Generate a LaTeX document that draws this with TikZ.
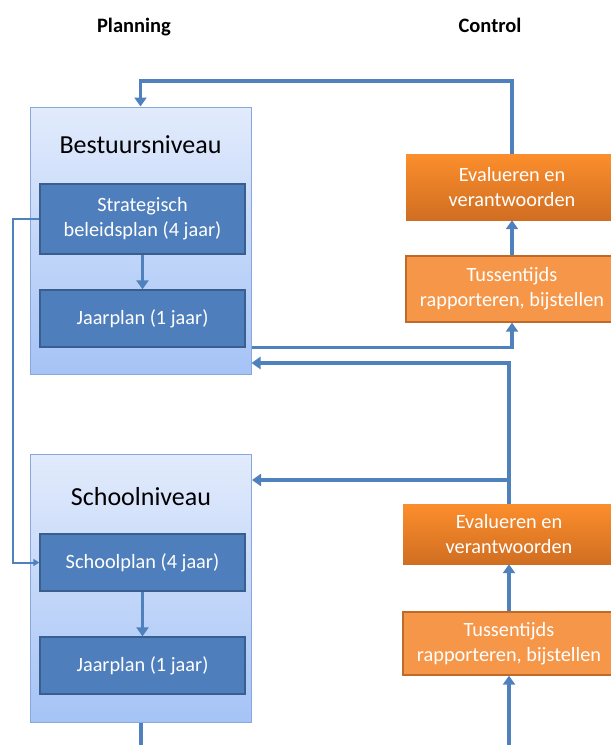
\documentclass[tikz,border=0pt]{standalone}
\usepackage{fontspec}
\setmainfont{Carlito}
\usetikzlibrary{arrows.meta}
\definecolor{lnblue}{HTML}{4F81BD}
\definecolor{inblue}{HTML}{4E7EBB}
\definecolor{inborder}{HTML}{3A5F8F}
\definecolor{outtop}{HTML}{E2EBFC}
\definecolor{outbot}{HTML}{A5C3F6}
\definecolor{outborder}{HTML}{86A8DA}
\definecolor{evtop}{HTML}{FC8E2C}
\definecolor{evbot}{HTML}{D06E22}
\definecolor{tsfill}{HTML}{F59648}
\definecolor{tsborder}{HTML}{C06A2A}
\tikzset{
  outerbox/.style={draw=outborder, line width=1pt, top color=outtop, bottom color=outbot, minimum width=221pt, inner sep=0pt},
  innerbox/.style={draw=inborder, line width=1.3pt, fill=inblue, minimum width=205pt, text=white, align=center, font=\fontsize{20.3}{25}\selectfont, inner sep=0pt},
  evbox/.style={draw=none, top color=evtop, bottom color=evbot, minimum width=212pt, text=white, align=center, font=\fontsize{20.3}{25}\selectfont, inner sep=0pt},
  tsbox/.style={draw=tsborder, line width=1.3pt, fill=tsfill, minimum width=212pt, text=white, align=center, font=\fontsize{20.3}{25}\selectfont, inner sep=0pt},
  conn/.style={draw=lnblue, line width=3.6pt, -{Triangle[width=12pt,length=9pt]}},
  connplain/.style={draw=lnblue, line width=3.6pt},
  thinconn/.style={draw=lnblue, line width=2pt, -{Triangle[width=7pt,length=6pt]}},
  header/.style={font=\fontsize{20.5}{24}\selectfont\bfseries, anchor=base},
  title/.style={font=\fontsize{26}{30}\selectfont}
}
\begin{document}
\begin{tikzpicture}[x=1pt,y=-1pt]
\useasboundingbox (0,0) rectangle (611,745);
\clip (0,0) rectangle (611,745);
% headers
\node[header] (hplan) at (134,32) {Planning};
\node[header] (hctrl) at (490,32) {Control};
% level coordinates
\coordinate (ytop) at (0,81);
\coordinate (yret) at (0,363);
\coordinate (ybr) at (0,480);
\coordinate (ybot) at (0,750);
\coordinate (xleft) at (13,0);
% Bestuursniveau
\node[outerbox, minimum height=267pt] (b) at (140.5,240.5) {};
\node[title] (bt) at (140.5,145) {Bestuursniveau};
\node[innerbox, minimum height=70pt] (s1) at (142.5,219) {Strategisch\\beleidsplan (4 jaar)};
\node[innerbox, minimum height=57pt] (j1) at (142.5,318.5) {Jaarplan (1 jaar)};
% Schoolniveau
\node[outerbox, minimum height=268pt] (sn) at (141,588) {};
\node[title] (snt) at (141,497) {Schoolniveau};
\node[innerbox, minimum height=57pt] (sp) at (142.5,562.5) {Schoolplan (4 jaar)};
\node[innerbox, minimum height=57pt] (j2) at (142.5,665.5) {Jaarplan (1 jaar)};
% Control
\node[evbox, minimum height=66pt] (e1) at (512,187) {Evalueren en\\verantwoorden};
\node[tsbox, minimum height=66pt] (t1) at (512,289) {Tussentijds\\rapporteren, bijstellen};
\node[evbox, minimum height=60pt] (e2) at (509,534) {Evalueren en\\verantwoorden};
\node[tsbox, minimum height=63pt] (t2) at (509,643.5) {Tussentijds\\rapporteren, bijstellen};
% connectors
\draw[conn] (e1.north) -- (e1.north |- ytop) -| (b.north);
\draw[conn] (t1.north) -- (e1.south);
\draw[conn] (j1.south -| b.east) -| (t1.south);
\draw[conn] (e2.north) -- (e2.north |- yret) -- (b.east |- yret);
\draw[conn] (e2.north |- ybr) -- (sn.east |- ybr);
\draw[conn] (t2.north) -- (e2.south);
\draw[conn] (t2.south |- ybot) -- (t2.south);
\draw[conn] (s1.south) -- (j1.north);
\draw[conn] (sp.south) -- (j2.north);
\draw[connplain] (sn.south) -- (sn.south |- ybot);
\draw[thinconn] (s1.west) -- (s1.west -| xleft) |- (sp.west);
\end{tikzpicture}
\end{document}
